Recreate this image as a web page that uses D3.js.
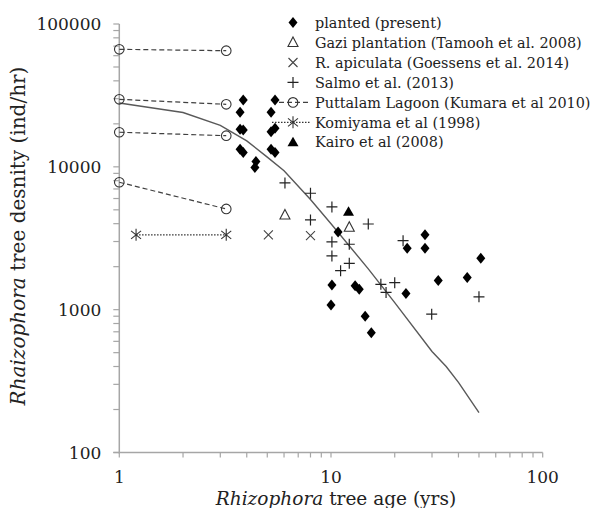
<!DOCTYPE html>
<html>
<head>
<meta charset="utf-8">
<script src="https://cdn.jsdelivr.net/npm/d3@7"></script>
<style>
  body { margin: 0; background: #fff; }
  svg text { font-family: "DejaVu Serif", serif; fill: #222; }
</style>
</head>
<body>
<div id="chart"></div>
<script>
// Data (age in years, density in ind/ha)
const planted = [
  [3.85, 29400], [3.72, 24100], [3.72, 18300], [3.85, 18100], [3.72, 13300], [3.85, 12600],
  [5.44, 29400], [5.21, 24100], [5.21, 17600], [5.44, 18600], [5.21, 13300], [5.44, 12600],
  [4.42, 10900], [4.37, 9900],
  [10.8, 3500], [27.8, 3340], [22.9, 2690], [27.8, 2690], [51, 2290],
  [10.1, 1490], [13.0, 1470], [13.6, 1390], [32.1, 1600], [44, 1680], [22.6, 1300],
  [10.0, 1080], [14.5, 900], [15.5, 690]
];
const gazi = [[6.06, 4600], [12.2, 3780]];
const apiculata = [[5.06, 3340], [8.0, 3300]];
const salmo = [
  [6.06, 7710], [8.0, 6530], [10.1, 5240], [8.0, 4250], [15.0, 3980], [10.1, 2980],
  [12.2, 2870], [10.1, 2380], [12.2, 2110], [11.1, 1875], [21.9, 3040], [17.2, 1505],
  [20.0, 1545], [18.2, 1320], [50, 1230], [29.9, 930]
];
const puttalam = [
  [[1, 66500], [3.2, 65000]],
  [[1, 29700], [3.2, 27400]],
  [[1, 17460], [3.2, 16520]],
  [[1, 7800], [3.2, 5070]]
];
const komiyama = [[1.2, 3340], [3.2, 3340]];
const kairo = [[12.1, 4850]];
const model = [
  [1, 28000], [2, 24000], [3, 19500], [4, 15200], [5, 11700], [6, 9400], [8, 5900],
  [10, 4000], [15, 1930], [20, 1120], [30, 510], [35, 400], [40, 310], [50, 190]
];
const legendLabels = [
  "planted (present)",
  "Gazi plantation (Tamooh et al. 2008)",
  "R. apiculata (Goessens et al.  2014)",
  "Salmo et al. (2013)",
  "Puttalam Lagoon (Kumara et al 2010)",
  "Komiyama et al (1998)",
  "Kairo et al (2008)"
];
const xTicks = [1, 10, 100];
const yTicks = [100, 1000, 10000, 100000];

const W = 593, H = 508;
const svg = d3.select("#chart").append("svg")
  .attr("width", W).attr("height", H);

const x = d3.scaleLog().domain([1, 100]).range([119.3, 542.7]);
const y = d3.scaleLog().domain([100, 100000]).range([452.5, 24]);

const axisColor = "#a6a6a6";

// minor tick values for log axes
function minors(lo, hi) {
  const out = [];
  for (let p = lo; p < hi; p *= 10) for (let k = 1; k < 10; k++) out.push(p * k);
  out.push(hi);
  return out;
}

// Y axis
const yAxis = svg.append("g").attr("transform", `translate(${x(1)},0)`);
yAxis.append("line").attr("y1", y(100000)).attr("y2", y(100) + 1)
  .attr("stroke", axisColor).attr("stroke-width", 1.5);
yAxis.selectAll(".ytick").data(minors(100, 100000)).enter().append("line")
  .attr("x1", -6).attr("x2", 0)
  .attr("y1", d => y(d)).attr("y2", d => y(d))
  .attr("stroke", axisColor).attr("stroke-width", 1.2);
yAxis.selectAll(".ylab").data(yTicks).enter().append("text")
  .attr("x", -18).attr("y", d => y(d)).attr("dy", "0.36em")
  .attr("text-anchor", "end").style("font-size", "17px")
  .text(d => d);

// X axis
const xAxis = svg.append("g").attr("transform", `translate(0,${y(100)})`);
xAxis.append("line").attr("x1", x(1) - 6).attr("x2", x(100))
  .attr("stroke", axisColor).attr("stroke-width", 1.5);
xAxis.selectAll(".xtick").data(minors(1, 100)).enter().append("line")
  .attr("x1", d => x(d)).attr("x2", d => x(d))
  .attr("y1", 0).attr("y2", 5)
  .attr("stroke", axisColor).attr("stroke-width", 1.2);
xAxis.selectAll(".xlab").data(xTicks).enter().append("text")
  .attr("x", d => x(d)).attr("y", 30.5)
  .attr("text-anchor", "middle").style("font-size", "17px")
  .text(d => d);

// axis titles
const xt = svg.append("text").attr("x", 336).attr("y", 505)
  .attr("text-anchor", "middle").style("font-size", "18.5px");
xt.append("tspan").style("font-style", "italic").text("Rhizophora");
xt.append("tspan").text(" tree age  (yrs)");

const yt = svg.append("text").attr("transform", "translate(25,236) rotate(-90)")
  .attr("text-anchor", "middle").style("font-size", "20px");
yt.append("tspan").style("font-style", "italic").text("Rhaizophora");
yt.append("tspan").text(" tree desnity (ind/hr)");

// model curve
const line = d3.line().x(d => x(d[0])).y(d => y(d[1]));
svg.append("path").datum(model).attr("d", line)
  .attr("fill", "none").attr("stroke", "#595959").attr("stroke-width", 1.4);

// Puttalam dashed pairs
puttalam.forEach(pair => {
  svg.append("path").datum(pair).attr("d", line)
    .attr("fill", "none").attr("stroke", "#404040").attr("stroke-width", 1.2)
    .attr("stroke-dasharray", "5,3");
  svg.selectAll(null).data(pair).enter().append("circle")
    .attr("cx", d => x(d[0])).attr("cy", d => y(d[1])).attr("r", 4.8)
    .attr("fill", "none").attr("stroke", "#333").attr("stroke-width", 1.1);
});

// Komiyama dotted pair
svg.append("path").datum(komiyama).attr("d", line)
  .attr("fill", "none").attr("stroke", "#333").attr("stroke-width", 1.2)
  .attr("stroke-dasharray", "1.5,1.5");

// marker shapes
function diamond(g) {
  g.append("path").attr("d", "M0,-5.5L4.5,0L0,5.5L-4.5,0Z").attr("fill", "#000");
}
function triOpen(g) {
  g.append("path").attr("d", "M0,-5.5L5,4L-5,4Z").attr("fill", "none")
    .attr("stroke", "#333").attr("stroke-width", 1.1);
}
function triFill(g) {
  g.append("path").attr("d", "M0,-5.5L5.5,4L-5.5,4Z").attr("fill", "#000");
}
function cross(g) {
  g.append("path").attr("d", "M-4.5,-4.5L4.5,4.5M-4.5,4.5L4.5,-4.5")
    .attr("stroke", "#444").attr("stroke-width", 1.1);
}
function plus(g) {
  g.append("path").attr("d", "M-5.5,0H5.5M0,-5.5V5.5")
    .attr("stroke", "#222").attr("stroke-width", 1.2);
}
function star(g) {
  g.append("path").attr("d", "M-5,-4L5,4M-5,4L5,-4M0,-6V6")
    .attr("stroke", "#333").attr("stroke-width", 1.1);
}
function circ(g) {
  g.append("circle").attr("r", 4.8).attr("fill", "none")
    .attr("stroke", "#333").attr("stroke-width", 1.1);
}

function drawPoints(data, shape) {
  svg.selectAll(null).data(data).enter().append("g")
    .attr("transform", d => `translate(${x(d[0])},${y(d[1])})`)
    .each(function() { shape(d3.select(this)); });
}

drawPoints(komiyama, star);
drawPoints(salmo, plus);
drawPoints(apiculata, cross);
drawPoints(gazi, triOpen);
drawPoints(kairo, triFill);
drawPoints(planted, diamond);

// legend
const legend = svg.append("g").attr("transform", "translate(0,0)");
const lgShapes = [diamond, triOpen, cross, plus, circ, star, triFill];
const mx = 293, tx = 315, ly0 = 22.6, lstep = 19.95;
legendLabels.forEach((lab, i) => {
  const ly = ly0 + i * lstep;
  if (i === 4) {
    legend.append("line").attr("x1", 279).attr("x2", 309).attr("y1", ly).attr("y2", ly)
      .attr("stroke", "#404040").attr("stroke-width", 1.2).attr("stroke-dasharray", "5,3");
  }
  if (i === 5) {
    legend.append("line").attr("x1", 272).attr("x2", 311).attr("y1", ly).attr("y2", ly)
      .attr("stroke", "#333").attr("stroke-width", 1.2).attr("stroke-dasharray", "1.5,1.5");
  }
  const g = legend.append("g").attr("transform", `translate(${mx},${ly})`);
  lgShapes[i](g);
  legend.append("text").attr("x", tx).attr("y", ly).attr("dy", "0.36em")
    .style("font-size", "14.4px").text(lab);
});
</script>
</body>
</html>
